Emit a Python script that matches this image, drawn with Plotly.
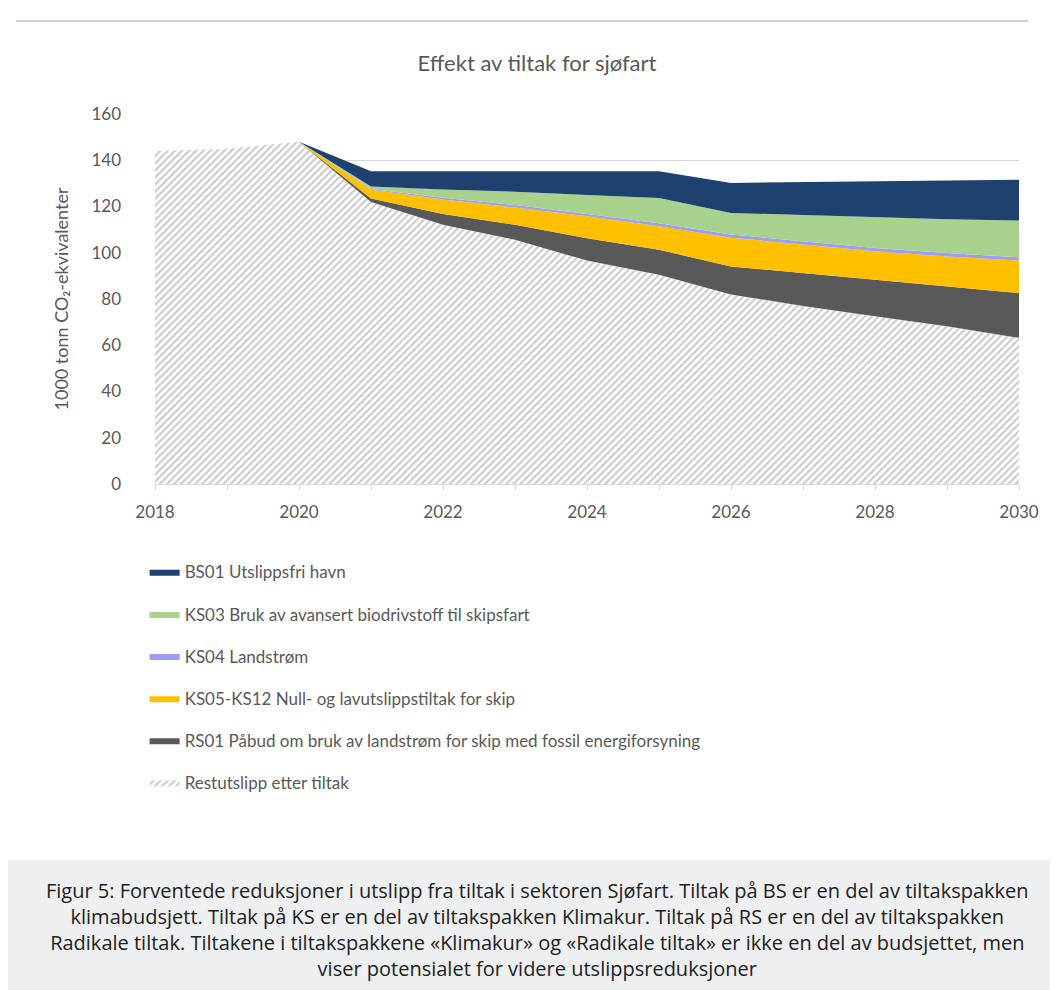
import plotly.graph_objects as go

years = list(range(2018, 2031))

# stacked from the bottom up
restutslipp = [144, 145, 148, 122, 112.1, 105.6, 96.6, 90.5, 82.0, 77.0, 72.5, 68.2, 63.2]
rs01 = [0, 0, 0, 1.5, 4.7, 6.5, 9.7, 10.8, 12.1, 14.3, 15.9, 17.3, 19.4]
ks05_ks12 = [0, 0, 0, 3.7, 6.2, 7.5, 9.5, 10.2, 12.4, 12.2, 12.2, 12.9, 14.0]
ks04 = [0, 0, 0, 0.4, 0.8, 1.0, 1.0, 1.3, 1.4, 1.4, 1.4, 1.5, 1.4]
ks03 = [0, 0, 0, 1.1, 3.5, 5.8, 8.2, 10.9, 9.3, 11.3, 13.3, 14.6, 15.9]
bs01 = [0, 0, 0, 6.5, 7.9, 8.8, 10.2, 11.5, 13.0, 14.4, 15.6, 16.8, 17.7]

names = [
    "Restutslipp etter tiltak",
    "RS01 Påbud om bruk av landstrøm for skip med fossil energiforsyning",
    "KS05-KS12 Null- og lavutslippstiltak for skip",
    "KS04 Landstrøm",
    "KS03 Bruk av avansert biodrivstoff til skipsfart",
    "BS01 Utslippsfri havn",
]
colors = ["#FFFFFF", "#595959", "#FFC000", "#9E9EF0", "#A9D18E", "#1F4170"]
series = [restutslipp, rs01, ks05_ks12, ks04, ks03, bs01]

caption = ("<span style='background-color:white'>Figur 5:</span> Forventede reduksjoner i utslipp fra tiltak i sektoren Sjøfart. "
           "Tiltak på BS er en del av tiltakspakken<br>klimabudsjett. Tiltak på KS er en del av tiltakspakken Klimakur. "
           "Tiltak på RS er en del av tiltakspakken<br>Radikale tiltak. Tiltakene i tiltakspakkene «Klimakur» og "
           "«Radikale tiltak» er ikke en del av budsjettet, men<br>viser potensialet for videre utslippsreduksjoner")

fig = go.Figure()
for i, (name, vals, col) in enumerate(zip(names, series, colors)):
    tr = dict(x=years, y=vals, name=name, mode="lines", stackgroup="one",
              line=dict(width=0), fillcolor=col, legendgroup=str(i), legendrank=len(names) - i)
    if i == 0:
        tr["fillpattern"] = dict(shape="/", fgcolor="#9A9A9A", bgcolor="white", size=5, solidity=0.45)
    fig.add_trace(go.Scatter(**tr))

grey = "#595959"
fig.update_layout(
    width=1058, height=990,
    margin=dict(l=147, r=47, t=106, b=514),
    paper_bgcolor="white", plot_bgcolor="white",
    font=dict(family="Lato, sans-serif", color=grey, size=16),
    title=dict(text="Effekt av tiltak for sjøfart", x=0.5, xanchor="center",
               y=1 - 55 / 990, yanchor="middle", font=dict(size=22, color=grey)),
    showlegend=True,
    legend=dict(x=-0.012, y=-0.19, xanchor="left", yanchor="top", traceorder="grouped",
                tracegroupgap=17, font=dict(size=17, color=grey), itemwidth=30),
    xaxis=dict(range=[2018, 2030], dtick=2, tick0=2018, showgrid=False,
               showline=True, linecolor="#D9D9D9", ticks="outside", tickcolor="#D9D9D9",
               ticklen=5, ticklabelstandoff=8, tickfont=dict(size=17),
               minor=dict(dtick=1, ticks="outside", ticklen=5, tickcolor="#D9D9D9")),
    yaxis=dict(range=[0, 160], dtick=20, showgrid=True, gridcolor="#D9D9D9",
               zeroline=False, ticklabelstandoff=33, tickfont=dict(size=17),
               title=dict(text="1000 tonn CO₂-ekvivalenter", standoff=18, font=dict(size=18, color=grey))),
)

def px_x(p):
    return (p - 147) / 864

def px_y(p):
    return (476 - p) / 370

fig.add_shape(type="line", xref="paper", yref="paper", x0=px_x(8), x1=px_x(1020),
              y0=px_y(13), y1=px_y(13), line=dict(color="#D0D0D0", width=2))
fig.add_shape(type="rect", xref="paper", yref="paper", x0=px_x(0), x1=px_x(1058),
              y0=px_y(852), y1=px_y(990), fillcolor="#EDEFF1", line=dict(width=0), layer="below")
fig.add_annotation(text=caption, xref="paper", yref="paper", x=px_x(529), y=px_y(922),
                   xanchor="center", yanchor="middle", showarrow=False, align="center",
                   font=dict(family="Open Sans, sans-serif", size=20, color="#222222"))

fig.write_html("out.html")
